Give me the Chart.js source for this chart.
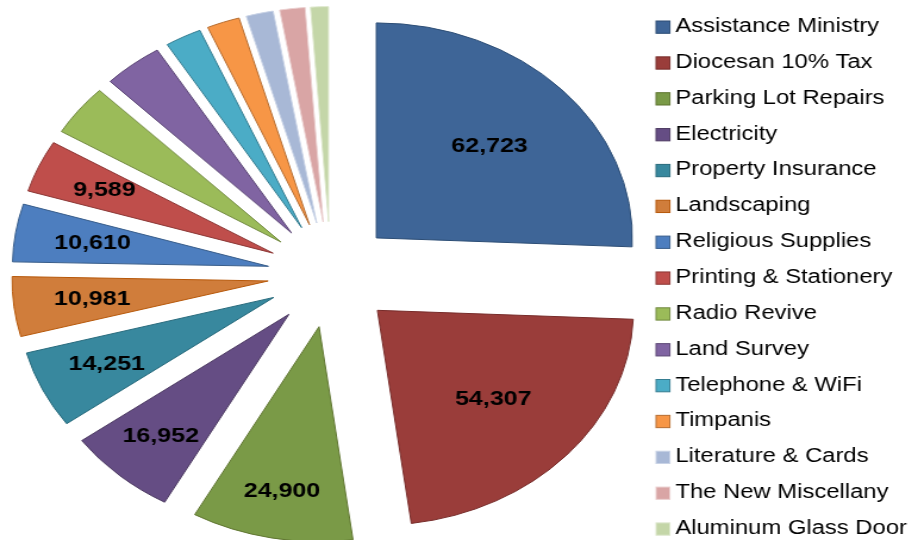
<!DOCTYPE html>
<html>
<head>
<meta charset="utf-8">
<script src="https://cdn.jsdelivr.net/npm/chart.js@4.4.1/dist/chart.umd.min.js"></script>
<style>
html,body{margin:0;padding:0;background:#fff;overflow:hidden;width:918px;height:540px}
#wrap{width:771px;height:540px;transform:scaleX(1.19066);transform-origin:0 0}
canvas{display:block}
</style>
</head>
<body>
<div id="wrap"><canvas id="c" width="771" height="540"></canvas></div>
<script>
const categories = [
  'Assistance Ministry', 'Diocesan 10% Tax', 'Parking Lot Repairs', 'Electricity',
  'Property Insurance', 'Landscaping', 'Religious Supplies', 'Printing & Stationery',
  'Radio Revive', 'Land Survey', 'Telephone & WiFi', 'Timpanis',
  'Literature & Cards', 'The New Miscellany', 'Aluminum Glass Door'
];
const expenses = [62723, 54307, 24900, 16952, 14251, 10981, 10610, 9589,
                  9450, 9150, 5600, 5050, 4200, 3900, 2750];
const sliceColors = ['#3E6597', '#9A3D3A', '#7A9A47', '#654D84', '#38889E', '#D07D3B', '#4D7EBF', '#BF4E4B',
                     '#9BBB59', '#8064A2', '#4BACC6', '#F79646', '#A8B8D6', '#D9A5A5', '#C4D6A8'];
const sliceBorders = ['#2C4D75', '#772C2A', '#5F7530', '#4D3B62', '#276A7C', '#B65708', '#385D8A', '#8C3836',
                      '#71893F', '#5C4776', '#357D91', '#B66D31', '#C9D3E6', '#EBD0D0', '#DDE7CC'];
const LABEL_MIN = 9500;   // slices at or above this value carry a data label

const FONT = '"Liberation Sans", Arial, sans-serif';
const OFFSET = 53;        // explosion distance
const RADIUS = 215;

const explodePlugin = {
  id: 'explode',
  beforeDatasetDraw(chart, args) {
    const ctx = chart.ctx;
    args.meta.data.forEach(arc => {
      const mid = (arc.startAngle + arc.endAngle) / 2;
      ctx.save();
      ctx.translate(Math.cos(mid) * OFFSET, Math.sin(mid) * OFFSET);
      arc.draw(ctx, chart.chartArea);
      ctx.restore();
    });
    return false;
  }
};

const labelPlugin = {
  id: 'sliceLabels',
  afterDatasetsDraw(chart) {
    const ctx = chart.ctx;
    const meta = chart.getDatasetMeta(0);
    const vals = chart.data.datasets[0].data;
    ctx.save();
    ctx.font = 'bold 21px ' + FONT;
    ctx.fillStyle = '#000';
    ctx.textAlign = 'center';
    ctx.textBaseline = 'middle';
    meta.data.forEach((arc, i) => {
      const v = vals[i];
      if (v < LABEL_MIN) return;
      const mid = (arc.startAngle + arc.endAngle) / 2;
      const frac = v > 40000 ? 0.613 : 0.68 + 0.1 * Math.abs(Math.sin(mid));
      const r = OFFSET + frac * arc.outerRadius;
      ctx.fillText(v.toLocaleString('en-US'), arc.x + Math.cos(mid) * r, arc.y + Math.sin(mid) * r);
    });
    ctx.restore();
  }
};

const legendPlugin = {
  id: 'sideLegend',
  afterDraw(chart) {
    const ctx = chart.ctx;
    const ds = chart.data.datasets[0];
    ctx.save();
    ctx.font = '20px ' + FONT;
    ctx.textBaseline = 'middle';
    ctx.textAlign = 'left';
    chart.data.labels.forEach((lab, i) => {
      const y = 26.5 + i * 35.85;
      ctx.fillStyle = ds.backgroundColor[i];
      ctx.fillRect(551, y - 5.5, 11.6, 12.3);
      ctx.strokeStyle = ds.borderColor[i];
      ctx.lineWidth = 1;
      ctx.strokeRect(551, y - 5.5, 11.6, 12.3);
      ctx.fillStyle = '#000';
      ctx.fillText(lab, 567.2, y);
    });
    ctx.restore();
  }
};

new Chart(document.getElementById('c'), {
  type: 'pie',
  data: {
    labels: categories,
    datasets: [{
      data: expenses,
      backgroundColor: sliceColors,
      borderColor: sliceBorders,
      borderWidth: 1,
      radius: RADIUS
    }]
  },
  options: {
    responsive: false,
    animation: false,
    layout: { padding: { left: 0, right: 215.4, top: 9.2, bottom: 0 } },
    plugins: {
      legend: { display: false },
      tooltip: { enabled: false },
      title: { display: false }
    }
  },
  plugins: [explodePlugin, labelPlugin, legendPlugin]
});
</script>
</body>
</html>
